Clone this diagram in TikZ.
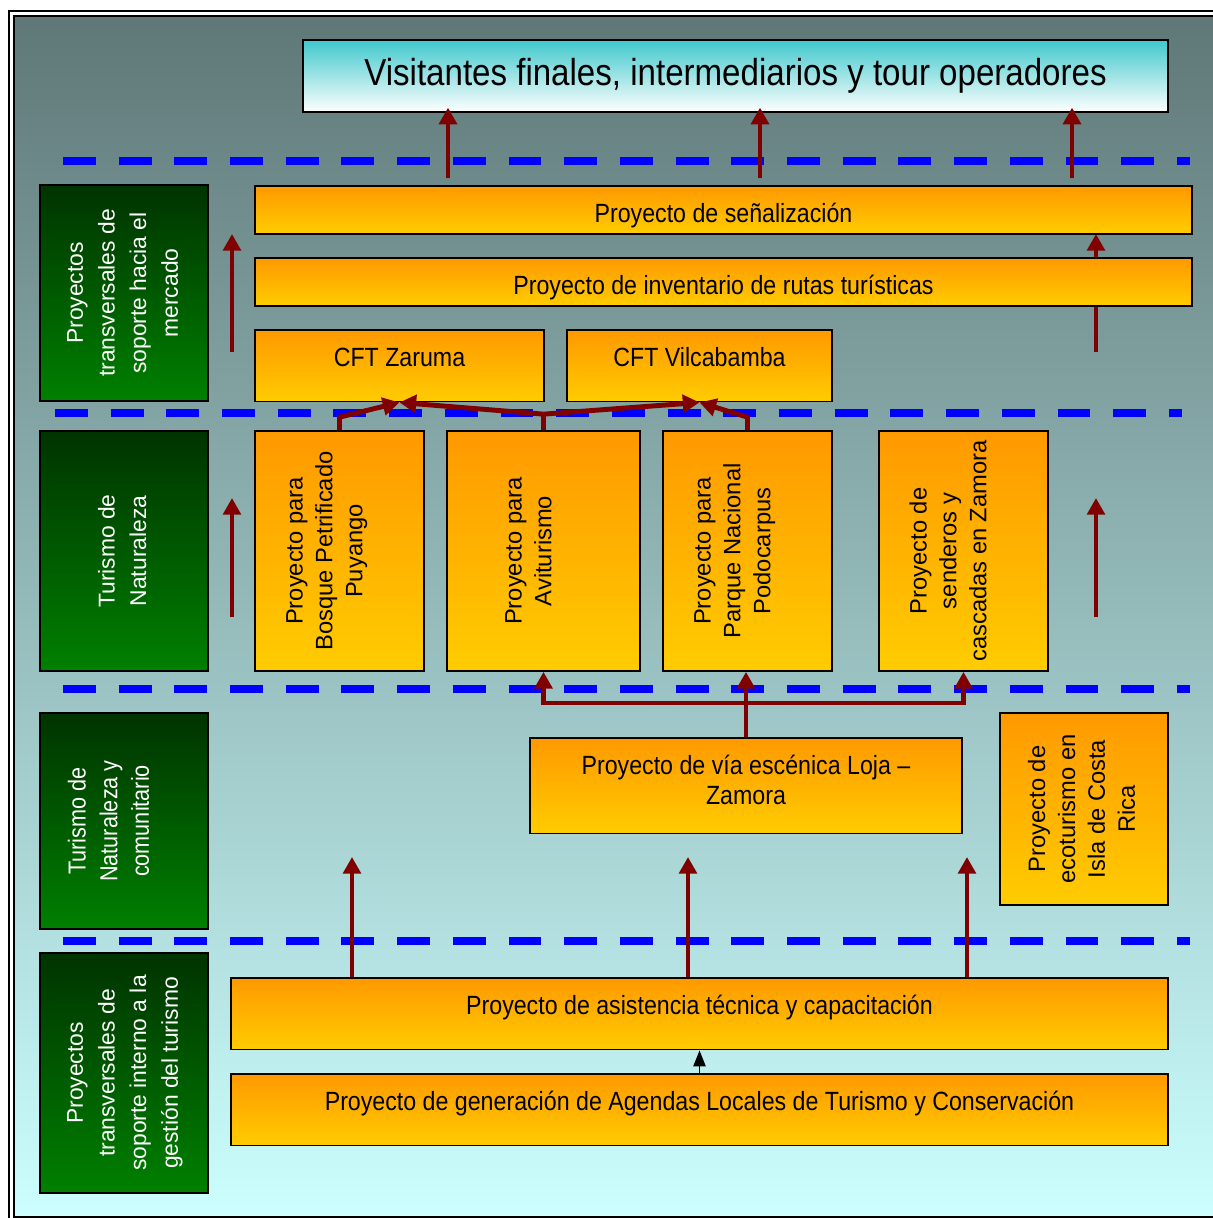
\documentclass[tikz,border=0pt]{standalone}
\usepackage{fontspec}
\setmainfont{Liberation Sans}
\newfontfamily\narrowfont[FakeStretch=0.88]{Liberation Sans}
\usetikzlibrary{arrows.meta}

\definecolor{fondo1}{RGB}{95,119,119}
\definecolor{fondo2}{RGB}{204,255,255}
\definecolor{naranja1}{RGB}{255,153,0}
\definecolor{naranja2}{RGB}{255,204,0}
\definecolor{verde1}{RGB}{0,51,0}
\definecolor{verde2}{RGB}{0,128,0}
\definecolor{cian}{RGB}{64,200,204}
\definecolor{rojo}{RGB}{128,0,0}

\begin{document}
\begin{tikzpicture}[x=0.02cm,y=-0.02cm,
        caja/.style={draw=black,line width=1pt,top color=naranja1,bottom color=naranja2,inner sep=0pt,anchor=north,text height=20.7pt,align=center,font=\narrowfont\fontsize{15}{17}\selectfont},
        vcaja/.style={draw=black,line width=1pt,top color=naranja1,bottom color=naranja2,inner sep=0pt,font=\fontsize{13.5}{17}\selectfont},
        izq/.style={execute at begin node=\hspace*{-0.52cm}},
        nivel/.style={draw=black,line width=1pt,top color=verde1,bottom color=verde2,text=white,inner sep=0pt,font=\fontsize{13}{18}\selectfont},
        corte/.style={blue,line width=4.5pt,dash pattern=on 18.7pt off 13pt},
        flecha/.style={draw=rojo,line width=2.8pt,-{Triangle[width=10pt,length=9.5pt]}}]
        \useasboundingbox (0,0) rectangle (1213,1218);
        \shade[top color=fondo1,bottom color=fondo2] (14,16) rectangle (1230,1217);
        \draw[line width=1.3pt] (9,11) rectangle (1240,1240);
        \draw[line width=1.3pt] (14,16) rectangle (1230,1217);

        \foreach \y/\xa in {161/63,413/55,689/63,941/63}
                \draw[corte] (\xa,\y) -- ++(1127,0);

        \foreach \x [count=\i] in {232,1096} {
                \coordinate (p\i) at (\x,352);
                \coordinate (q\i) at (\x,617);
                \draw[flecha] (p\i) -- ++(0,-118);
                \draw[flecha] (q\i) -- ++(0,-119);
        }

        \node[draw=black,line width=1pt,top color=cian,bottom color=white,minimum width=17.30cm,minimum height=1.44cm,font=\narrowfont\fontsize{21.4}{24}\selectfont] (vis) at (735.5,76) {Visitantes finales, intermediarios y tour operadores};

        \node[nivel,minimum width=3.36cm,minimum height=4.32cm] (mercado) at (124,293) {\rotatebox{90}{\begin{tabular}{@{}c@{}}Proyectos\\transversales de\\soporte hacia el\\mercado\end{tabular}}};
        \node[nivel,minimum width=3.36cm,minimum height=4.80cm] (natur) at (124,551) {\rotatebox{90}{\begin{tabular}{@{}c@{}}Turismo de\\Naturaleza\end{tabular}}};
        \node[nivel,izq,minimum width=3.36cm,minimum height=4.32cm,font=\narrowfont\fontsize{14}{18}\selectfont] (comun) at (124,821) {\rotatebox{90}{\begin{tabular}{@{}c@{}}Turismo de\\Naturaleza y\\comunitario\end{tabular}}};
        \node[nivel,minimum width=3.36cm,minimum height=4.80cm] (gestion) at (124,1073) {\rotatebox{90}{\begin{tabular}{@{}c@{}}Proyectos\\transversales de\\soporte interno a la\\gestión del turismo\end{tabular}}};

        \node[caja,minimum width=18.74cm,text depth=6.5pt] (senal) at (723.5,185) {Proyecto de señalización};
        \node[caja,minimum width=18.74cm,text depth=6.5pt] (rutas) at (723.5,257) {Proyecto de inventario de rutas turísticas};
        \node[caja,minimum width=5.78cm,text depth=20.1pt] (zar) at (399.5,329) {CFT Zaruma};
        \node[caja,minimum width=5.30cm,text depth=20.1pt] (vil) at (699.5,329) {CFT Vilcabamba};

        \node[vcaja,izq,minimum width=3.38cm,minimum height=4.80cm] (puy) at (339.5,551) {\rotatebox{90}{\begin{tabular}{@{}c@{}}Proyecto para\\Bosque Petrificado\\Puyango\end{tabular}}};
        \node[vcaja,izq,minimum width=3.86cm,minimum height=4.80cm] (avi) at (543.5,551) {\rotatebox{90}{\begin{tabular}{@{}c@{}}Proyecto para\\Aviturismo\end{tabular}}};
        \node[vcaja,izq,minimum width=3.38cm,minimum height=4.80cm] (pod) at (747.5,551) {\rotatebox{90}{\begin{tabular}{@{}c@{}}Proyecto para\\Parque Nacional\\Podocarpus\end{tabular}}};
        \node[vcaja,izq,minimum width=3.38cm,minimum height=4.80cm] (send) at (963.5,551) {\rotatebox{90}{\begin{tabular}{@{}c@{}}Proyecto de\\senderos y\\cascadas en Zamora\end{tabular}}};

        \node[caja,minimum width=8.64cm,text height=37.7pt,text depth=16.7pt] (loja) at (746,737) {Proyecto de vía escénica Loja –\\Zamora};
        \node[vcaja,minimum width=3.36cm,minimum height=3.84cm] (isla) at (1084,809) {\rotatebox{90}{\begin{tabular}{@{}c@{}}Proyecto de\\ecoturismo en\\Isla de Costa\\Rica\end{tabular}}};

        \node[caja,minimum width=18.74cm,text depth=20.1pt] (asis) at (699.5,977) {Proyecto de asistencia técnica y capacitación};
        \node[caja,minimum width=18.74cm,text depth=20.1pt] (agen) at (699.5,1073) {Proyecto de generación de Agendas Locales de Turismo y Conservación};

        \foreach \x [count=\i] in {448,760,1072} {
                \coordinate (s\i) at (\x,178);
                \draw[flecha,shorten >=-3pt] (s\i) -- (s\i |- vis.south);
        }

        \draw[flecha] (puy.north) -- ++(0,-13) -- (zar.south);
        \draw[rojo,line width=2.8pt] (avi.north) -- ++(0,-16) coordinate (aj);
        \draw[flecha] (aj) -- (zar.south);
        \draw[flecha] (aj) -- (vil.south);
        \draw[flecha] (pod.north) -- ++(0,-13) -- (vil.south);

        \coordinate (lj) at (746,703);
        \draw[flecha] (loja.north) -- (loja.north |- pod.south);
        \draw[flecha] (lj) -| (avi.south);
        \draw[flecha] (lj) -| (send.south);

        \foreach \x [count=\i] in {352,688,967} {
                \coordinate (b\i) at (\x,857);
                \draw[flecha] (b\i |- asis.north) -- (b\i);
        }
        \draw[line width=0.7pt,-{Triangle[width=7pt,length=9pt]}] (agen.north) -- (asis.south);
\end{tikzpicture}
\end{document}
